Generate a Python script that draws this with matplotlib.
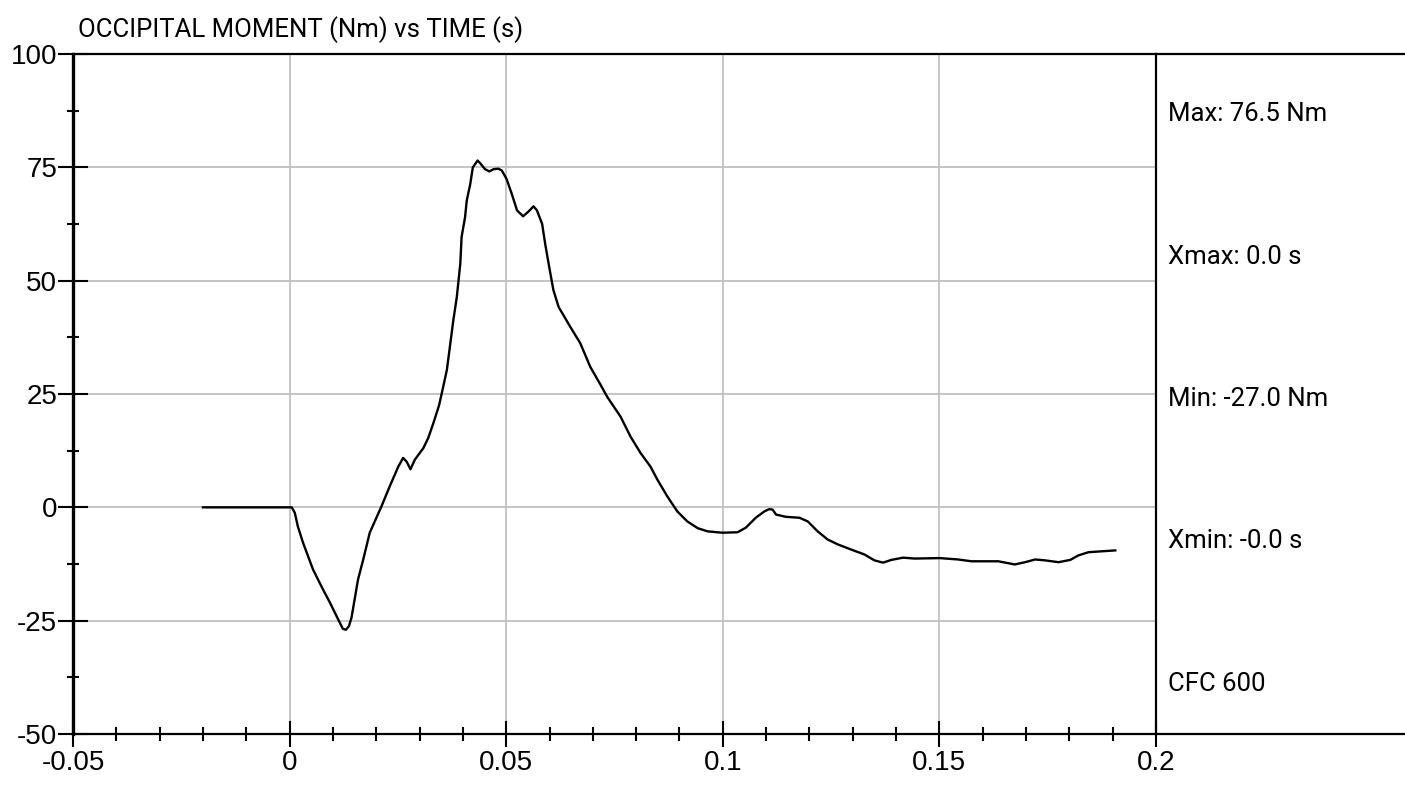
import numpy as np
import matplotlib
matplotlib.use("Agg")
import matplotlib.pyplot as plt
from matplotlib.ticker import MultipleLocator, FixedFormatter, FixedLocator

# Occipital moment trace
time = [-0.0200, 0.0005, 0.0012, 0.0019, 0.0031, 0.0054, 0.0077, 0.0093, 0.0112, 0.0123,
        0.0130, 0.0137, 0.0143, 0.0158, 0.0170, 0.0185, 0.0212, 0.0231, 0.0251, 0.0262,
        0.0270, 0.0279, 0.0289, 0.0309, 0.0320, 0.0332, 0.0345, 0.0353, 0.0363, 0.0370,
        0.0378, 0.0386, 0.0394, 0.0397, 0.0405, 0.0409, 0.0417, 0.0423, 0.0434, 0.0440,
        0.0451, 0.0461, 0.0471, 0.0482, 0.0490, 0.0501, 0.0513, 0.0525, 0.0539, 0.0552,
        0.0563, 0.0571, 0.0583, 0.0590, 0.0598, 0.0609, 0.0621, 0.0648, 0.0671, 0.0694,
        0.0718, 0.0733, 0.0764, 0.0787, 0.0810, 0.0833, 0.0849, 0.0872, 0.0895, 0.0918,
        0.0942, 0.0965, 0.0999, 0.1034, 0.1053, 0.1076, 0.1096, 0.1107, 0.1115, 0.1123,
        0.1146, 0.1177, 0.1196, 0.1219, 0.1242, 0.1266, 0.1296, 0.1327, 0.1350, 0.1370,
        0.1389, 0.1416, 0.1443, 0.1501, 0.1543, 0.1574, 0.1636, 0.1674, 0.1698, 0.1721,
        0.1744, 0.1775, 0.1802, 0.1821, 0.1844, 0.1875, 0.1906]
moment = [0, 0, -1.2, -4.2, -7.8, -13.7, -18.1, -21.0, -24.7, -26.8,
          -27.0, -26.2, -24.3, -15.9, -11.5, -5.6, 0.2, 4.6, 9.0, 10.9,
          10.1, 8.4, 10.5, 13.1, 15.3, 18.6, 22.5, 25.9, 30.3, 35.4,
          41.3, 46.4, 53.7, 59.6, 64.0, 67.7, 71.3, 75.0, 76.5, 75.9,
          74.6, 74.1, 74.6, 74.7, 74.3, 72.4, 69.1, 65.5, 64.2, 65.3,
          66.4, 65.5, 62.5, 58.1, 53.7, 47.9, 44.2, 39.8, 36.2, 31.0,
          27.0, 24.4, 20.0, 15.6, 12.0, 9.0, 6.1, 2.4, -0.9, -3.1,
          -4.6, -5.3, -5.6, -5.5, -4.5, -2.3, -0.9, -0.4, -0.5, -1.6,
          -2.1, -2.3, -3.1, -5.3, -7.1, -8.2, -9.3, -10.4, -11.7, -12.2,
          -11.6, -11.1, -11.3, -11.2, -11.5, -11.9, -11.9, -12.6, -12.1, -11.5,
          -11.7, -12.1, -11.6, -10.6, -9.9, -9.7, -9.5]

x_ticks = [-0.05, 0, 0.05, 0.1, 0.15, 0.2]
x_labels = ["-0.05", "0", "0.05", "0.1", "0.15", "0.2"]
y_ticks = [-50, -25, 0, 25, 50, 75, 100]
y_labels = ["-50", "-25", "0", "25", "50", "75", "100"]

stats = ["Max: 76.5 Nm", "Xmax: 0.0 s", "Min: -27.0 Nm", "Xmin: -0.0 s", "CFC 600"]
title = "OCCIPITAL MOMENT (Nm) vs TIME (s)"

narrow = ["Roboto", "DejaVu Sans"]
W, H = 1405, 785

fig = plt.figure(figsize=(W / 100, H / 100), dpi=100)
ax = fig.add_axes([73 / W, 1 - 734 / H, (1156 - 73) / W, (734 - 54) / H])

ax.plot(time, moment, color="black", lw=1.7)

ax.set_xlim(-0.05, 0.2)
ax.set_ylim(-50, 100)

ax.xaxis.set_major_locator(FixedLocator(x_ticks))
ax.xaxis.set_major_formatter(FixedFormatter(x_labels))
ax.xaxis.set_minor_locator(MultipleLocator(0.01))
ax.yaxis.set_major_locator(FixedLocator(y_ticks))
ax.yaxis.set_major_formatter(FixedFormatter(y_labels))
ax.yaxis.set_minor_locator(MultipleLocator(12.5))

ax.grid(True, which="major", color="#c0c0c0", lw=1.3)
ax.set_axisbelow(True)

ax.tick_params(axis="x", which="major", direction="inout", length=19, width=1.5,
               labelsize=20, pad=2)
ax.tick_params(axis="x", which="minor", direction="inout", length=10, width=1.5)
ax.tick_params(axis="y", which="major", direction="inout", length=21, width=1.5,
               labelsize=20, pad=1)
ax.tick_params(axis="y", which="minor", direction="inout", length=9, width=1.5)
for lab in ax.get_xticklabels() + ax.get_yticklabels():
    lab.set_family(["Liberation Sans", "DejaVu Sans"])

ax.spines["left"].set_linewidth(2.4)
for s in ["top", "bottom", "right"]:
    ax.spines[s].set_linewidth(1.6)

# border lines continuing into the side panel
ext = (W - 73) / (1156 - 73)
ax.plot([1, ext], [1, 1], transform=ax.transAxes, color="black", lw=1.6, clip_on=False)
ax.plot([1, ext], [0, 0], transform=ax.transAxes, color="black", lw=1.6, clip_on=False)

fig.text(78 / W, 1 - 30 / H, title, fontsize=18.5, family=narrow, va="center", ha="left")

for i, s in enumerate(stats):
    yc = 114 + i * 142.5
    fig.text(1168 / W, 1 - yc / H, s, fontsize=18.5, family=narrow, va="center", ha="left")

fig.savefig("out.png", dpi=100)
